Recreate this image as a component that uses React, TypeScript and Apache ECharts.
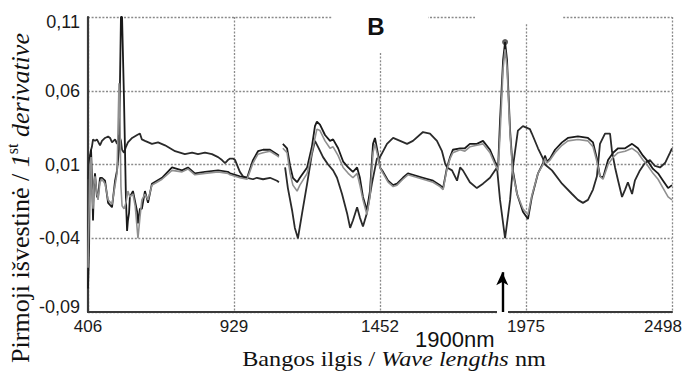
import React, { useEffect, useRef } from "react";
import * as echarts from "echarts";

type Pt = [number, number | null];

// Axis range (wavelength, nm / first derivative)
const X_MIN = 406;
const X_MAX = 2498;
const X_STEP = 523;
const Y_MIN = -0.09;
const Y_MAX = 0.11;
const Y_STEP = 0.05;

// First-derivative spectra: [wavelength nm, value]; null marks the gap in the record
const SPECTRUM_A: Pt[] = [
  [406, -0.074], [410, -0.045], [413, 0.016], [417, 0.02], [420, 0.002], [424, -0.028],
  [427, -0.005], [431, 0.004], [438, -0.012], [442, -0.012], [449, 0.001], [456, 0.001],
  [467, -0.001], [478, -0.016], [492, -0.019], [503, -0.001], [510, 0.006], [517, 0.02],
  [524, 0.11], [528, 0.11], [535, 0.054], [542, -0.014], [546, -0.035], [549, -0.028],
  [553, -0.023], [556, -0.012], [567, -0.008], [582, -0.022], [585, -0.03], [592, -0.02],
  [599, -0.02], [610, -0.008], [621, -0.016], [635, -0.003], [653, -0.001], [671, 0.001],
  [707, 0.008], [743, 0.006], [764, 0.008], [789, 0.004], [825, 0.005], [872, 0.006],
  [907, 0.005], [915, 0.004], [933, 0.003], [950, 0.002], [976, 0.001], [997, 0.013],
  [1015, 0.019], [1033, 0.02], [1058, 0.02], [1083, 0.017], [1090, 0.016], [1097, null],
  [1104, 0.024], [1119, 0.021], [1130, 0.009], [1140, 0.001], [1155, -0.002], [1165, 0.001],
  [1191, 0.008], [1208, 0.022], [1219, 0.036], [1226, 0.039], [1237, 0.037], [1255, 0.03],
  [1273, 0.026], [1284, 0.027], [1302, 0.021], [1320, 0.012], [1338, 0.008], [1355, 0.005],
  [1370, 0.008], [1380, 0.001], [1391, -0.012], [1405, -0.021], [1416, -0.008], [1427, 0.024],
  [1434, 0.028], [1445, 0.017], [1452, 0.008], [1463, 0.005], [1481, -0.001], [1499, -0.004],
  [1513, -0.003], [1534, 0.001], [1552, 0.004], [1570, 0.003], [1606, 0.001], [1642, -0.001],
  [1667, -0.004], [1678, -0.006], [1692, 0.008], [1703, 0.015], [1713, 0.02], [1739, 0.021],
  [1756, 0.021], [1774, 0.024], [1799, 0.024], [1821, 0.026], [1846, 0.02], [1864, 0.012],
  [1875, 0.008], [1882, 0.04], [1893, 0.081], [1900, 0.093], [1907, 0.081], [1918, 0.033],
  [1928, 0.006], [1943, -0.01], [1964, -0.022], [1982, -0.027], [1996, -0.012], [2018, 0.004],
  [2036, 0.011], [2043, 0.016], [2050, 0.012], [2061, 0.014], [2079, 0.02], [2104, 0.025],
  [2125, 0.028], [2161, 0.029], [2197, 0.028], [2215, 0.025], [2229, 0.014], [2240, 0.002],
  [2251, 0.001], [2269, 0.013], [2287, 0.018], [2305, 0.021], [2330, 0.021], [2355, 0.024],
  [2376, 0.021], [2394, 0.016], [2412, 0.012], [2430, 0.007], [2448, 0.004], [2466, -0.001],
  [2484, -0.006], [2498, -0.004],
];

const SPECTRUM_B: Pt[] = [
  [406, -0.06], [410, -0.02], [413, 0.01], [417, 0.015], [420, -0.005], [424, -0.02],
  [427, -0.004], [431, 0.002], [438, -0.01], [442, -0.014], [449, -0.002], [456, 0.0],
  [467, -0.003], [478, -0.014], [492, -0.017], [503, -0.004], [510, 0.004], [513, 0.03],
  [517, 0.065], [521, 0.035], [524, -0.005], [528, -0.018], [535, -0.02], [542, -0.016],
  [549, -0.008], [556, -0.012], [567, -0.01], [575, -0.018], [585, -0.04], [592, -0.026],
  [599, -0.014], [610, -0.01], [621, -0.014], [635, -0.004], [653, -0.002], [671, 0.0],
  [707, 0.006], [743, 0.005], [764, 0.007], [789, 0.003], [825, 0.004], [872, 0.005],
  [907, 0.004], [915, 0.003], [933, 0.002], [950, 0.001], [976, 0.0], [997, 0.011],
  [1015, 0.017], [1033, 0.018], [1058, 0.019], [1083, 0.016], [1090, 0.015], [1097, null],
  [1104, 0.021], [1119, 0.018], [1130, 0.004], [1140, -0.004], [1155, -0.008], [1165, -0.004],
  [1191, 0.004], [1208, 0.018], [1226, 0.034], [1237, 0.033], [1255, 0.026], [1273, 0.021],
  [1284, 0.022], [1302, 0.016], [1320, 0.008], [1338, 0.004], [1355, 0.001], [1370, 0.004],
  [1380, -0.004], [1391, -0.014], [1405, -0.024], [1416, -0.012], [1427, 0.018], [1434, 0.024],
  [1445, 0.015], [1452, 0.008], [1463, 0.004], [1481, -0.002], [1499, -0.005], [1513, -0.004],
  [1534, 0.0], [1552, 0.003], [1570, 0.002], [1606, 0.0], [1642, -0.002], [1667, -0.005],
  [1678, -0.007], [1692, 0.007], [1703, 0.014], [1713, 0.018], [1739, 0.02], [1756, 0.019],
  [1774, 0.022], [1799, 0.023], [1821, 0.024], [1846, 0.018], [1864, 0.01], [1875, 0.006],
  [1882, 0.03], [1893, 0.075], [1900, 0.088], [1907, 0.076], [1918, 0.03], [1928, 0.004],
  [1943, -0.01], [1964, -0.02], [1982, -0.024], [1996, -0.011], [2018, 0.004], [2036, 0.01],
  [2043, 0.014], [2050, 0.011], [2061, 0.013], [2079, 0.018], [2104, 0.023], [2125, 0.026],
  [2161, 0.027], [2197, 0.026], [2215, 0.022], [2229, 0.012], [2240, 0.002], [2251, 0.0],
  [2269, 0.01], [2287, 0.015], [2305, 0.018], [2330, 0.019], [2355, 0.021], [2376, 0.018],
  [2394, 0.013], [2412, 0.009], [2430, 0.004], [2448, 0.0], [2466, -0.006], [2484, -0.012],
  [2498, -0.014],
];

const SPECTRUM_C: Pt[] = [
  [406, 0.0], [410, 0.015], [413, 0.006], [417, 0.02], [420, 0.022], [424, 0.027],
  [431, 0.026], [438, 0.027], [449, 0.023], [456, 0.026], [467, 0.028], [478, 0.029],
  [485, 0.028], [492, 0.025], [503, 0.027], [510, 0.024], [517, 0.03], [524, 0.026],
  [528, 0.02], [535, 0.018], [542, 0.022], [549, 0.025], [564, 0.028], [582, 0.03],
  [592, 0.031], [599, 0.027], [610, 0.026], [635, 0.024], [657, 0.025], [682, 0.023],
  [718, 0.019], [753, 0.017], [779, 0.018], [800, 0.017], [825, 0.018], [850, 0.017],
  [872, 0.015], [886, 0.013], [897, 0.011], [907, 0.013], [915, 0.014], [925, 0.014],
  [933, 0.013], [950, 0.005], [961, 0.002], [976, 0.001], [997, 0.0], [1011, 0.001],
  [1033, 0.0], [1058, 0.001], [1083, -0.001], [1090, -0.002], [1097, null], [1112, 0.008],
  [1122, -0.006], [1137, -0.021], [1147, -0.033], [1158, -0.04], [1173, -0.023], [1191, -0.003],
  [1208, 0.017], [1219, 0.026], [1230, 0.022], [1248, 0.015], [1266, 0.01], [1284, 0.006],
  [1298, 0.001], [1316, -0.01], [1334, -0.023], [1345, -0.033], [1355, -0.028], [1370, -0.019],
  [1380, -0.026], [1391, -0.032], [1405, -0.023], [1423, -0.003], [1441, 0.014], [1452, 0.015],
  [1477, 0.024], [1499, 0.028], [1524, 0.026], [1549, 0.024], [1570, 0.026], [1606, 0.032],
  [1631, 0.031], [1656, 0.026], [1674, 0.019], [1685, 0.011], [1692, 0.008], [1710, 0.006],
  [1728, -0.001], [1739, 0.008], [1749, 0.006], [1774, -0.002], [1799, -0.006], [1821, -0.003],
  [1846, 0.001], [1871, 0.008], [1882, -0.014], [1900, -0.04], [1918, -0.014], [1928, 0.008],
  [1946, 0.033], [1964, 0.036], [1989, 0.034], [1996, 0.031], [2018, 0.021], [2036, 0.014],
  [2043, 0.01], [2068, 0.006], [2104, -0.003], [2140, -0.01], [2161, -0.014], [2179, -0.016],
  [2197, -0.014], [2215, -0.007], [2229, 0.002], [2240, 0.024], [2258, 0.031], [2276, 0.031],
  [2283, 0.019], [2294, 0.008], [2305, -0.001], [2319, -0.012], [2330, -0.007], [2340, -0.002],
  [2355, -0.01], [2365, -0.001], [2383, 0.006], [2401, 0.011], [2419, 0.013], [2437, 0.009],
  [2455, 0.008], [2473, 0.011], [2491, 0.018], [2498, 0.021],
];

// Marked maximum at 1900 nm and the arrow pointing at it
const PEAK_POINTS: [number, number][] = [[1900, 0.093]];
const ARROW_AT = 1890;
const ARROW_TOP = -0.063;
const ARROW_LABEL = "1900nm";
const PANEL_LABEL = "B";

// Axis titles as runs of [text, style]: n = upright, i = italic, s = superscript
const X_TITLE: [string, string][] = [
  ["Bangos ilgis / ", "n"],
  ["Wave lengths", "i"],
  [" nm", "n"],
];
const Y_TITLE: [string, string][] = [
  ["Pirmoji išvestinė / ", "n"],
  ["1", "i"],
  ["st", "s"],
  [" derivative", "i"],
];

const SANS = "'Liberation Sans', Arial, sans-serif";
const SERIF = "'Liberation Serif', 'Times New Roman', serif";

// The axes run from 0 so that ticks fall on 406, 929, ... and -0.09, -0.04, ...
const toAxis = (pts: Pt[]) =>
  pts.map(([x, y]) => [x - X_MIN, y === null ? "-" : y - Y_MIN]);

const fmtY = (v: number) => {
  const real = v + Y_MIN;
  return real.toFixed(2).replace(".", ",");
};

// Lays out a mixed-style title as separate text elements centred on the group origin
function titleRuns(runs: [string, string][], size: number) {
  const ctx = document.createElement("canvas").getContext("2d")!;
  const fontOf = (kind: string) =>
    kind === "i"
      ? `italic ${size}px ${SERIF}`
      : kind === "s"
      ? `${Math.round(size * 0.6)}px ${SERIF}`
      : `${size}px ${SERIF}`;
  const widths = runs.map(([t, k]) => {
    ctx.font = fontOf(k);
    return ctx.measureText(t).width;
  });
  const total = widths.reduce((a, b) => a + b, 0);
  let cursor = -total / 2;
  return runs.map(([t, k], i) => {
    const el = {
      type: "text",
      x: cursor,
      y: k === "s" ? -size * 0.28 : 0,
      style: {
        text: t,
        font: fontOf(k),
        fill: "#111111",
        textAlign: "left",
        textVerticalAlign: "middle",
      },
    };
    cursor += widths[i];
    return el;
  });
}

export default function App() {
  const ref = useRef<HTMLDivElement>(null);

  useEffect(() => {
    if (!ref.current) return;
    const chart = echarts.init(ref.current, undefined, { renderer: "svg" });
    const gridLine = { color: "#8a8a8a", width: 1.3, type: [2, 1.6] as number[] };

    chart.setOption({
      animation: false,
      backgroundColor: "#ffffff",
      grid: {
        left: 88,
        right: 18,
        top: 17,
        bottom: 59,
        containLabel: false,
        outerBoundsMode: "none",
      },
      xAxis: {
        type: "value",
        min: 0,
        max: X_MAX - X_MIN,
        interval: X_STEP,
        axisLine: { show: true, lineStyle: { color: "#3a3a3a", width: 2.2 } },
        axisTick: { show: false },
        splitLine: { show: true, lineStyle: gridLine },
        axisLabel: {
          margin: 6,
          color: "#1a1a1a",
          fontSize: 17,
          fontFamily: SANS,
          formatter: (v: number) => {
            const t = String(Math.round(v + X_MIN));
            return Math.round(v + X_MIN) === X_MAX ? `{last|${t}}` : t;
          },
          rich: {
            last: { padding: [0, 18, 0, 0], fontSize: 17, fontFamily: SANS, color: "#1a1a1a" },
          },
        },
      },
      yAxis: {
        type: "value",
        min: 0,
        max: Y_MAX - Y_MIN,
        interval: Y_STEP,
        axisLine: { show: true, lineStyle: { color: "#3a3a3a", width: 2.2 } },
        axisTick: { show: false },
        splitLine: { show: true, lineStyle: gridLine },
        axisLabel: {
          margin: 8,
          color: "#1a1a1a",
          fontSize: 18,
          fontFamily: SANS,
          formatter: (v: number) => {
            const t = fmtY(v);
            if (Math.abs(v - (Y_MAX - Y_MIN)) < 1e-9) return `{top|${t}}`;
            if (Math.abs(v) < 1e-9) return `{bot|${t}}`;
            return t;
          },
          rich: {
            top: { padding: [10, 0, 0, 0], fontSize: 18, fontFamily: SANS, color: "#1a1a1a" },
            bot: { padding: [0, 0, 10, 0], fontSize: 18, fontFamily: SANS, color: "#1a1a1a" },
          },
        },
      },
      series: [
        {
          type: "line",
          data: toAxis(SPECTRUM_C),
          showSymbol: false,
          symbol: "none",
          connectNulls: false,
          lineStyle: { color: "#2a2a2a", width: 1.8 },
          silent: true,
        },
        {
          type: "line",
          data: toAxis(SPECTRUM_A),
          showSymbol: false,
          symbol: "none",
          connectNulls: false,
          lineStyle: { color: "#1a1a1a", width: 1.8 },
          silent: true,
        },
        {
          type: "line",
          data: toAxis(SPECTRUM_B),
          showSymbol: false,
          symbol: "none",
          connectNulls: false,
          lineStyle: { color: "#909090", width: 1.6 },
          silent: true,
        },
        {
          type: "scatter",
          data: PEAK_POINTS.map(([x, y]) => [x - X_MIN, y - Y_MIN]),
          symbol: "circle",
          symbolSize: 6,
          itemStyle: { color: "#333333" },
          silent: true,
          markLine: {
            silent: true,
            symbol: ["none", "arrow"],
            symbolSize: [9, 13],
            label: { show: false },
            lineStyle: { color: "#000000", width: 2.4, type: "solid" },
            data: [
              [
                { coord: [ARROW_AT - X_MIN, 0] },
                { coord: [ARROW_AT - X_MIN, ARROW_TOP - Y_MIN] },
              ],
            ],
          },
        },
      ],
      graphic: [
        { type: "rect", z: 1, shape: { x: 332, y: 6, width: 96, height: 47 }, style: { fill: "#ffffff" } },
        { type: "rect", z: 1, shape: { x: 475, y: 6, width: 88, height: 17 }, style: { fill: "#ffffff" } },
        { type: "rect", z: 1, shape: { x: 497, y: 308, width: 11, height: 8 }, style: { fill: "#ffffff" } },
        {
          type: "text",
          z: 10,
          x: 376,
          y: 26,
          style: {
            text: PANEL_LABEL,
            font: `bold 24px ${SANS}`,
            fill: "#111111",
            textAlign: "center",
            textVerticalAlign: "middle",
          },
        },
        {
          type: "text",
          z: 10,
          x: 415,
          y: 339,
          style: {
            text: ARROW_LABEL,
            font: `22px ${SANS}`,
            fill: "#111111",
            textAlign: "left",
            textVerticalAlign: "middle",
          },
        },
        {
          type: "group",
          z: 10,
          x: 394,
          y: 358,
          scaleX: 1.1,
          children: titleRuns(X_TITLE, 22),
        },
        {
          type: "group",
          z: 10,
          x: 20,
          y: 198,
          rotation: Math.PI / 2,
          children: titleRuns(Y_TITLE, 26),
        },
      ],
    });

    return () => chart.dispose();
  }, []);

  return (
    <div
      ref={ref}
      style={{ position: "fixed", left: 0, top: 0, width: 690, height: 371 }}
    />
  );
}
